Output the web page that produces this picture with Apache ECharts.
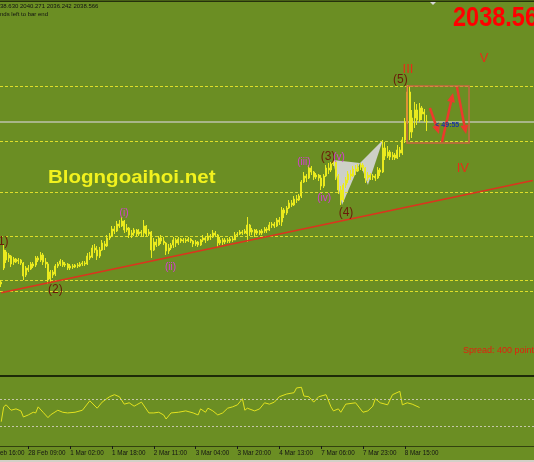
<!DOCTYPE html>
<html>
<head>
<meta charset="utf-8">
<script src="https://cdn.jsdelivr.net/npm/echarts@6/dist/echarts.min.js"></script>
<style>
html, body { margin: 0; padding: 0; background: #6b8e23; }
#chart { width: 534px; height: 462px; }
</style>
</head>
<body>
<div id="chart"></div>
<script>
// H1 bars: [open, close, low, high]
const bars = [
  [1998, 1998.5, 1997.25, 1999], [2002, 2006.5, 2001.5, 2007.75], [2006, 2004, 2003.25, 2006.5], [2004.5, 2005.25, 2003.5, 2005.75],
  [2005, 2003, 2002.25, 2005.25], [2003.5, 2004.25, 2002.75, 2004.75], [2004.25, 2003.5, 2003.25, 2004.5], [2003.75, 2004, 2003, 2004.5],
  [2004, 2003.25, 2002.75, 2004.25], [2003.25, 2000, 1999, 2003.5], [2000.25, 2002, 1999.75, 2002.5], [2002, 2001.5, 2001, 2002.75],
  [2001.75, 2003, 2001.5, 2003.5], [2003, 2002.5, 2002, 2003.5], [2002.75, 2004.5, 2002.25, 2005], [2004.5, 2004, 2003.5, 2005],
  [2004, 2005.25, 2003.5, 2006], [2005.25, 2003.5, 2002.75, 2005.75], [2003.5, 2003, 2002, 2004.5], [2003, 1999, 1998, 2003.5],
  [1999.25, 2001, 1998.5, 2001.5], [2001, 2000.25, 1999.5, 2001.5], [2000.5, 2002.5, 2000, 2003], [2002.5, 2003, 2002, 2003.5],
  [2003, 2003.75, 2002.5, 2004.25], [2003.5, 2002.75, 2002.25, 2004], [2002.75, 2003, 2002.25, 2003.5], [2003, 2002, 2001.5, 2003.25],
  [2002, 2002.5, 2001.5, 2003], [2002.5, 2002.25, 2001.75, 2003], [2002.25, 2002.75, 2002, 2003], [2002.75, 2002.5, 2002, 2003.25],
  [2002.5, 2003, 2002.25, 2003.5], [2003, 2003.25, 2002.5, 2003.75], [2003.25, 2003, 2002.5, 2003.75], [2003, 2005, 2002.75, 2005.75],
  [2005, 2004.5, 2004, 2006], [2004.75, 2007, 2004.5, 2007.75], [2007, 2006.5, 2005.75, 2008], [2006.5, 2005, 2004, 2007.5],
  [2005, 2006.5, 2004.5, 2007.25], [2006.5, 2008.25, 2006.25, 2009], [2008, 2007.5, 2006.5, 2008.75], [2007.5, 2009.5, 2007.25, 2010.25],
  [2009.5, 2010, 2009, 2010.75], [2010, 2011.75, 2009.75, 2012.5], [2011.75, 2011.25, 2010.5, 2012.5], [2011.25, 2013, 2011, 2013.75],
  [2013, 2012.5, 2012, 2014], [2012.5, 2013.75, 2012.25, 2014.75], [2013.75, 2011.5, 2010.75, 2014], [2011.5, 2012, 2011, 2013],
  [2012, 2010.25, 2009.5, 2012.25], [2010.25, 2010.75, 2009.5, 2011.5], [2010.75, 2011.5, 2010, 2012], [2011.5, 2010.5, 2009.75, 2011.75],
  [2010.5, 2011, 2010, 2011.75], [2011, 2010.75, 2010, 2011.5], [2010.75, 2012.5, 2009.75, 2014], [2012.5, 2010.5, 2009.75, 2012.75],
  [2010.5, 2011, 2010, 2011.75], [2011, 2006.5, 2004.5, 2011.25], [2006.5, 2008.5, 2006.25, 2009.5], [2008.5, 2007.75, 2007.25, 2009.25],
  [2007.75, 2009.5, 2007.5, 2010], [2009.5, 2008.75, 2008, 2010.25], [2008.75, 2008.25, 2007.75, 2009.75], [2008.25, 2006.25, 2005.25, 2008.5],
  [2006.25, 2007, 2005.5, 2008], [2007, 2007.75, 2006.5, 2008.25], [2007.75, 2009, 2007, 2009.75], [2009, 2008.25, 2007.25, 2009.5],
  [2008.25, 2009.25, 2007.75, 2009.75], [2009.25, 2008.75, 2008.25, 2009.5], [2008.75, 2009, 2008.25, 2009.5], [2009, 2008.75, 2008.25, 2009.5],
  [2008.75, 2009.25, 2008.5, 2009.75], [2009.25, 2008.75, 2008.25, 2009.5], [2008.75, 2008, 2007.25, 2009], [2008, 2008.5, 2007.5, 2009],
  [2008.5, 2007.75, 2007.25, 2008.75], [2007.75, 2009, 2007.5, 2009.25], [2009, 2009.5, 2008.5, 2010.25], [2009.5, 2009, 2008.25, 2010],
  [2009, 2010, 2008.75, 2010.75], [2010, 2009.75, 2009, 2010.5], [2009.75, 2010.75, 2009.5, 2011.5], [2010.75, 2010.25, 2009.75, 2011.25],
  [2010.25, 2008.25, 2007.25, 2010.5], [2008.25, 2009, 2007.75, 2009.75], [2009, 2008.5, 2007.75, 2009.5], [2008.5, 2009, 2008, 2009.5],
  [2009, 2008.75, 2008.25, 2009.5], [2008.75, 2009.25, 2008.25, 2009.75], [2009.25, 2009, 2008.5, 2009.75], [2009, 2010.25, 2009, 2011],
  [2010.25, 2010.5, 2009.75, 2011], [2010.5, 2011, 2010.25, 2011.5], [2011, 2010.75, 2010.25, 2011.5], [2010.75, 2011.25, 2010.5, 2011.75],
  [2010.5, 2012.75, 2008.5, 2014.75], [2012.75, 2011, 2010, 2013], [2011, 2011.5, 2010.25, 2012], [2011.5, 2010.75, 2009.75, 2011.75],
  [2010.75, 2011.25, 2010.25, 2011.75], [2011.25, 2010.75, 2010.25, 2011.5], [2010.75, 2011.25, 2010.25, 2011.75], [2011.25, 2011.75, 2010.75, 2012.25],
  [2011.75, 2011.5, 2010.75, 2012.25], [2011.5, 2012.75, 2011.25, 2013.5], [2012.75, 2013, 2012, 2013.5], [2013, 2012.5, 2012, 2013.5],
  [2012.5, 2014, 2012.25, 2014.5], [2014, 2013.5, 2012.75, 2014.75], [2013.5, 2016.5, 2012.5, 2017.25], [2016.5, 2015.75, 2014.5, 2017],
  [2015.75, 2017, 2015.25, 2017.5], [2017, 2018.25, 2016.75, 2019], [2018.25, 2017.75, 2017.25, 2019], [2017.75, 2019.25, 2017.5, 2020],
  [2019.25, 2019, 2018.25, 2020.25], [2019, 2020, 2018.75, 2020.5], [2020, 2023.5, 2019.5, 2024], [2023.5, 2025, 2023.25, 2026],
  [2025, 2024.5, 2023.5, 2025.5], [2024.5, 2027, 2024.25, 2027.75], [2027, 2026, 2025.25, 2027.5], [2026, 2024.75, 2024, 2026.25],
  [2024.75, 2025.25, 2024.25, 2025.75], [2025.25, 2024.5, 2023.75, 2025.5], [2024.5, 2022.5, 2021.5, 2025.25], [2022.5, 2025, 2022, 2025.5],
  [2025, 2027, 2024.75, 2027.75], [2027, 2026.5, 2025.5, 2028.25], [2026.5, 2028, 2026, 2028.5], [2028, 2028.5, 2027.5, 2029],
  [2028.5, 2025, 2024, 2028.75], [2025, 2021.5, 2020.5, 2025.5], [2021.5, 2019, 2017.75, 2022.5], [2019, 2022.75, 2018.5, 2023.25],
  [2022.75, 2024, 2022, 2024.75], [2024, 2025.5, 2023.25, 2026.25], [2025.5, 2025, 2024, 2026.5], [2025, 2026.75, 2024.75, 2027.5],
  [2026.75, 2026.25, 2025.25, 2027.75], [2026.25, 2027.25, 2026, 2028], [2027.25, 2027.75, 2026.5, 2028.25], [2027.75, 2027, 2026.25, 2028.25],
  [2027, 2024.5, 2023.25, 2027.25], [2024.5, 2025.25, 2023.75, 2026], [2025.25, 2024.75, 2024, 2025.75], [2024.75, 2025, 2024, 2025.5],
  [2025, 2024.5, 2023.75, 2025.5], [2024.5, 2026.5, 2024.25, 2027.25], [2026.5, 2026, 2025, 2027], [2026, 2032, 2025.75, 2034],
  [2032, 2030, 2029, 2033.5], [2030, 2031, 2029.5, 2032.5], [2031, 2029.75, 2029, 2031.5], [2029.75, 2030.25, 2029, 2031],
  [2030.25, 2029.5, 2029, 2030.75], [2029.5, 2031.5, 2029.25, 2032.75], [2031.5, 2030.75, 2029.75, 2032.25], [2030.75, 2034, 2030.25, 2034.75],
  [2034, 2038.5, 2033.25, 2039.5], [2038.5, 2046, 2038, 2047.75], [2046, 2036, 2034, 2047.5], [2036, 2039.5, 2034.5, 2041.5],
  [2039.5, 2041.5, 2037, 2043.5], [2041.5, 2039, 2037.75, 2043], [2039, 2042, 2038.5, 2043.25], [2042, 2040.5, 2039, 2042.5],
  [2040.5, 2041, 2038.5, 2041.75], [2038.63, 2038.57, 2036.24, 2040.27]
];
const slotCount = 217;
const levels = [2047.5, 2033.75, 2021, 2009.9, 1999, 1996.25];
const bidPrice = 2038.6;
const trendLine = [[0, 1995.8], [216, 2023.9]];

const tickIdx = [11, 28, 45, 62, 79, 96, 113, 130, 147, 164];
const tickLabels = ['28 Feb 09:00', '1 Mar 02:00', '1 Mar 18:00', '2 Mar 11:00', '3 Mar 04:00',
  '3 Mar 20:00', '4 Mar 13:00', '7 Mar 06:00', '7 Mar 23:00', '8 Mar 15:00'];

const oscIdx = [0, 1, 2, 4, 6, 8, 9, 11, 13, 14, 15, 17, 19, 20, 23, 25, 27, 30, 33, 36, 39, 41, 44, 46, 48, 50, 52, 54, 55, 57,
  60, 62, 64, 66, 67, 69, 72, 75, 78, 80, 81, 83, 84, 86, 88, 90, 92, 94, 96, 98, 99, 100, 103, 105, 107, 109, 111, 113, 116, 119,
  120, 122, 123, 125, 127, 129, 132, 134, 135, 137, 138, 140, 144, 147, 149, 151, 152, 154, 157, 159, 162, 163, 165, 167, 170];
const oscVal = [36, 58, 61, 53, 55, 52, 43, 46, 50, 49, 58, 50, 42, 46, 53, 50, 49, 50, 53, 67, 56, 65, 73, 76, 73, 62, 64, 59, 61, 65,
  49, 49, 50, 46, 40, 49, 50, 52, 49, 46, 55, 50, 56, 52, 46, 49, 56, 58, 61, 70, 53, 56, 52, 55, 64, 62, 65, 73, 77, 79,
  86, 87, 74, 73, 65, 73, 76, 58, 52, 55, 50, 62, 64, 50, 52, 59, 70, 64, 61, 76, 81, 61, 64, 62, 57];
const oscLevels = [70, 30];

// wave counts
const waveText = ['(1)', '(2)', '(i)', '(ii)', '(iii)', '(iv)', '(3)', '(v)', '(4)', '(5)', 'III', 'IV', 'V'];
const waveIdx = [0, 22, 49.9, 68.8, 123, 131.2, 132.8, 137.3, 140.1, 162.2, 165.3, 187.6, 196.2];
const wavePrice = [2008.5, 1996.5, 2015.6, 2002.25, 2028.4, 2019.5, 2029.75, 2029.6, 2015.75, 2049, 2051.75, 2026.9, 2054.5];
const waveKind = ['major', 'major', 'minor', 'minor', 'minor', 'minor', 'major', 'minor', 'major', 'major', 'big', 'big', 'big'];

// harmonic pattern (two triangles)
const pattern = [
  [[134.8, 2029], [138.5, 2017.75], [145.8, 2028.25]],
  [[145.8, 2028.25], [149, 2022.75], [155.1, 2034]]
];
const boxIdx = [164.9, 190.1];
const boxPrice = [2047.5, 2033.25];
const arrows = [
  [[174.2, 2042], [177.9, 2035.5]],
  [[179.1, 2033.5], [183.6, 2045.75]],
  [[185.2, 2047.25], [188.9, 2035.5]]
];

const slots = Array.from({ length: slotCount }, (_, i) => i);
const kindStyle = {
  major: { color: '#6a1a0a', fontSize: 12 },
  minor: { color: '#d83cd8', fontSize: 10 },
  big: { color: '#e62e18', fontSize: 13 }
};
const isTick = (i) => tickIdx.indexOf(i) >= 0;
const font = '"Liberation Sans", Arial, sans-serif';
const clear = 'rgba(0,0,0,0)';

const chart = echarts.init(document.getElementById('chart'));
chart.setOption({
  backgroundColor: '#6b8e23',
  animation: false,
  grid: [
    { left: 0, right: 0, top: 4, bottom: 86 },
    { left: 0, right: 0, top: 378.5, bottom: 16 }
  ],
  xAxis: [
    {
      type: 'category', gridIndex: 0, data: slots, boundaryGap: true,
      axisLine: { show: true, lineStyle: { color: '#1e2a08', width: 2 } },
      axisTick: { show: false }, axisLabel: { show: false }, splitLine: { show: false }
    },
    { type: 'value', gridIndex: 0, min: -0.5, max: slotCount - 0.5, show: false },
    {
      type: 'category', gridIndex: 1, data: slots, boundaryGap: true,
      axisLine: { show: true, lineStyle: { color: '#33420e', width: 1 } },
      axisTick: { show: true, interval: (i) => isTick(i), alignWithLabel: true, length: 3, lineStyle: { color: '#1a1a1a' } },
      axisLabel: {
        interval: (i) => isTick(i), align: 'left', margin: 4,
        formatter: (v, i) => tickLabels[tickIdx.indexOf(i)],
        color: '#141414', fontSize: 6.3, fontFamily: font
      },
      splitLine: { show: false }
    }
  ],
  yAxis: [
    { type: 'value', gridIndex: 0, min: 1975, max: 2068, show: false },
    { type: 'value', gridIndex: 1, min: 0, max: 100, show: false }
  ],
  series: [
    {
      type: 'custom', xAxisIndex: 1, yAxisIndex: 0, z: 1, clip: true,
      data: pattern.map((p) => p[0]),
      renderItem: (params, api) => ({
        type: 'polygon',
        shape: { points: pattern[params.dataIndex].map((p) => api.coord(p)) },
        style: { fill: 'rgba(214,214,214,0.92)' }
      })
    },
    {
      type: 'candlestick', xAxisIndex: 0, yAxisIndex: 0, z: 3,
      data: bars, barWidth: 1.5,
      itemStyle: { color: '#eaea1e', color0: '#eaea1e', borderColor: '#eaea1e', borderColor0: '#eaea1e', borderWidth: 1 },
      markLine: {
        silent: true, symbol: ['none', 'none'], label: { show: false }, z: 2,
        data: levels.map((v) => ({ yAxis: v, lineStyle: { color: '#dede2a', type: [3, 2], width: 1 } }))
          .concat([{ yAxis: bidPrice, lineStyle: { color: '#bcc2ac', type: 'solid', width: 1.5 } }])
      }
    },
    {
      type: 'line', xAxisIndex: 1, yAxisIndex: 0, z: 4,
      data: trendLine, symbol: 'none',
      lineStyle: { color: '#dc341e', width: 1.5 }
    },
    {
      type: 'custom', xAxisIndex: 1, yAxisIndex: 0, z: 5, clip: false,
      data: [[boxIdx[0], boxPrice[0]]],
      renderItem: (params, api) => {
        const a = api.coord([boxIdx[0], boxPrice[0]]);
        const b = api.coord([boxIdx[1], boxPrice[1]]);
        return {
          type: 'rect',
          shape: { x: a[0], y: a[1], width: b[0] - a[0], height: b[1] - a[1] },
          style: { fill: 'none', stroke: 'rgba(214,96,70,0.85)', lineWidth: 1.5 }
        };
      }
    },
    {
      type: 'custom', xAxisIndex: 1, yAxisIndex: 0, z: 6, clip: false,
      data: arrows.map((a) => a[0]),
      renderItem: (params, api) => {
        const seg = arrows[params.dataIndex];
        const p0 = api.coord(seg[0]);
        const p1 = api.coord(seg[1]);
        const ang = Math.atan2(p1[1] - p0[1], p1[0] - p0[0]);
        const L = 9, W = 4;
        const base = [p1[0] - L * Math.cos(ang), p1[1] - L * Math.sin(ang)];
        const left = [base[0] + W * Math.sin(ang), base[1] - W * Math.cos(ang)];
        const right = [base[0] - W * Math.sin(ang), base[1] + W * Math.cos(ang)];
        return {
          type: 'group',
          children: [
            { type: 'line', shape: { x1: p0[0], y1: p0[1], x2: base[0], y2: base[1] }, style: { stroke: '#ec3a2c', lineWidth: 2.5 } },
            { type: 'polygon', shape: { points: [p1, left, right] }, style: { fill: '#ec3a2c' } }
          ]
        };
      }
    },
    {
      type: 'scatter', xAxisIndex: 1, yAxisIndex: 0, z: 7, symbolSize: 1,
      itemStyle: { color: clear, opacity: 1 },
      data: waveText.map((t, i) => ({
        value: [waveIdx[i], wavePrice[i]],
        label: {
          show: true, position: 'inside', formatter: t, fontFamily: font,
          color: kindStyle[waveKind[i]].color, fontSize: kindStyle[waveKind[i]].fontSize
        }
      }))
    },
    {
      type: 'scatter', xAxisIndex: 1, yAxisIndex: 0, z: 7, symbolSize: 1,
      itemStyle: { color: clear, opacity: 1 },
      data: [{
        value: [176.2, 2037.8],
        label: { show: true, position: 'right', distance: 0, formatter: '< 49:55', color: '#1a36a0', fontSize: 7, fontWeight: 'bold', fontFamily: font }
      }]
    },
    {
      type: 'line', xAxisIndex: 2, yAxisIndex: 1, z: 3,
      data: oscIdx.map((x, i) => [x, oscVal[i]]), symbol: 'none',
      lineStyle: { color: '#e2e21e', width: 1 },
      markLine: {
        silent: true, symbol: ['none', 'none'], label: { show: false },
        data: oscLevels.map((v) => ({ yAxis: v })),
        lineStyle: { color: '#c4c8a8', type: [2, 2], width: 1 }
      }
    }
  ],
  graphic: [
    { type: 'rect', shape: { x: 0, y: 0.5, width: 534, height: 1.5 }, style: { fill: '#25300c' }, silent: true },
    { type: 'polygon', shape: { points: [[430, 2], [436, 2], [433, 5]] }, style: { fill: '#d8d8d8' }, silent: true },
    { type: 'text', left: -6.7, top: 3, style: { text: '2038.630 2040.271 2036.242 2038.566', fill: '#111', font: '6px ' + font } },
    { type: 'text', left: -12.7, top: 11.5, style: { text: 'seconds left to bar end', fill: '#111', font: '6px ' + font } },
    { type: 'text', x: 453, y: 4, scaleX: 0.84, style: { text: '2038.56', fill: '#ff0000', font: 'bold 28px ' + font } },
    { type: 'text', x: 48, y: 168, scaleX: 1.08, style: { text: 'Blogngoaihoi.net', fill: '#f2f21e', font: 'bold 19px ' + font } },
    { type: 'text', left: 463, top: 346, style: { text: 'Spread: 400 points', fill: '#e2200e', font: '9px ' + font } },
    { type: 'text', left: -12.5, top: 450.5, style: { text: '27 Feb 16:00', fill: '#141414', font: '6.3px ' + font } },
    { type: 'rect', shape: { x: 0, y: 460, width: 534, height: 2 }, style: { fill: '#d4d0c8' }, silent: true }
  ]
});
</script>
</body>
</html>
